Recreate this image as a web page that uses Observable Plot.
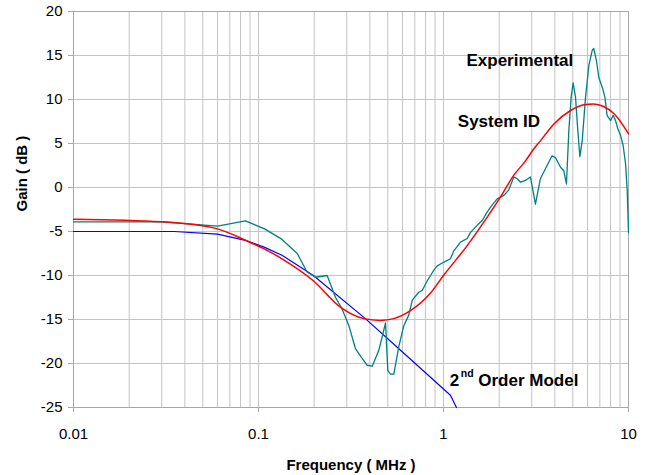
<!DOCTYPE html>
<html><head><meta charset="utf-8">
<script src="https://cdn.jsdelivr.net/npm/d3@7"></script>
<script src="https://cdn.jsdelivr.net/npm/@observablehq/plot@0.6"></script>
<style>body{margin:0;background:#fff}</style>
</head><body><div id="chart"></div>
<script>
// Experimental (teal)
const expFreq = [0.01,0.03,0.06,0.085,0.108,0.134,0.162,0.183,0.203,0.235,0.261,0.283,0.308,0.334,0.36,0.387,0.412,0.447,0.486,0.50,0.517,0.539,0.573,0.61,0.649,0.678,0.735,0.767,0.817,0.851,0.887,0.925,1.0,1.09,1.137,1.236,1.343,1.40,1.52,1.62,1.72,1.83,1.95,2.12,2.25,2.40,2.50,2.61,2.77,2.95,3.14,3.34,3.63,3.86,4.03,4.29,4.47,4.62,4.76,4.90,5.02,5.17,5.32,5.46,5.62,5.86,6.11,6.37,6.49,6.71,6.91,7.21,7.45,7.66,8.0,8.26,8.51,8.75,9.06,9.35,9.64,9.84,10.0];
const expGain = [-3.9,-3.9,-4.4,-3.8,-4.7,-5.9,-7.5,-9.6,-10.2,-10.0,-12.5,-13.8,-15.7,-18.3,-19.3,-20.2,-20.3,-18.5,-15.4,-20.8,-21.2,-21.2,-18.1,-15.7,-14.5,-12.8,-11.9,-11.7,-10.6,-10.0,-9.4,-8.9,-8.5,-8.1,-7.2,-6.2,-5.8,-5.1,-4.3,-3.75,-2.8,-2.0,-1.3,-0.9,-0.3,1.2,1.0,0.6,0.8,1.2,-1.9,1.0,2.5,3.6,3.4,2.3,1.9,0.4,6.5,10.3,11.9,10.3,6.5,3.5,5.3,10.3,13.9,15.6,15.8,14.4,12.5,11.4,10.3,8.2,7.6,8.2,7.6,6.7,5.9,4.8,2.7,-0.3,-5.1];
// System ID (red)
const sysFreq = [0.01,0.03,0.06,0.085,0.108,0.134,0.198,0.277,0.371,0.456,0.539,0.663,0.851,1.0,1.343,1.72,2.03,2.40,2.77,3.08,3.34,3.94,4.86,5.74,6.49,7.35,8.33,9.25,10];
const sysGain = [-3.6,-3.9,-4.7,-6.0,-7.0,-8.1,-10.6,-13.6,-14.9,-15.1,-14.9,-14.0,-12.0,-10.0,-6.6,-3.4,-1.1,1.4,3.0,4.4,5.3,7.2,8.75,9.4,9.5,9.2,8.4,7.2,6.1];
// 2nd order model (blue)
const modFreq = [0.01,0.035,0.06,0.085,0.108,0.134,0.198,0.378,0.586,1.09,1.175];
const modGain = [-5.0,-5.0,-5.3,-6.0,-6.8,-7.7,-10.0,-14.9,-18.5,-23.6,-25.0];

const xTicks = [0.01,0.1,1,10];
const yTicks = [-25,-20,-15,-10,-5,0,5,10,15,20];
const xGrid = [];
for (const p of [0.01,0.1,1]) for (let k=1;k<=9;k++) xGrid.push(+(p*k).toPrecision(3));
xGrid.push(10);

const labelText = ["Experimental","System ID"];
const labelFreq = [1.331,1.195];
const labelGain = [13.86,6.85];
const modelLabelFreq = 1.082, modelLabelGain = -22.61;

const exp = expFreq.map((f,i)=>({f,g:expGain[i]}));
const sys = sysFreq.map((f,i)=>({f,g:sysGain[i]}));
const mod = modFreq.map((f,i)=>({f,g:modGain[i]}));
const labels = labelText.map((t,i)=>({t,f:labelFreq[i],g:labelGain[i]}));
const ml = [{f:modelLabelFreq,g:modelLabelGain}];

const font = "'Liberation Sans', Arial, sans-serif";
const chart = Plot.plot({
  width:650, height:475,
  marginLeft:73, marginRight:22, marginTop:11, marginBottom:68,
  style:{fontFamily:font, fontSize:"15px", color:"#000", background:"#fff"},
  x:{type:"log", domain:[0.01,10]},
  y:{domain:[-25,20]},
  marks:[
    Plot.gridX(xGrid, {stroke:"#c4c4c4", strokeOpacity:1}),
    Plot.gridY(yTicks, {stroke:"#c4c4c4", strokeOpacity:1}),
    Plot.frame({stroke:"#a8a8a8"}),
    Plot.axisX(xTicks, {tickSize:5, tickPadding:16, stroke:"#a8a8a8", fill:"#000", tickFormat:d=>String(d), label:null, fontSize:15}),
    Plot.axisY(yTicks, {tickSize:5, tickPadding:6, stroke:"#a8a8a8", fill:"#000", tickFormat:d=>String(d), label:null, fontSize:15}),
    Plot.line(mod, {x:"f", y:"g", stroke:"#0000ff", strokeWidth:1.2}),
    Plot.line(exp, {x:"f", y:"g", stroke:"#008080", strokeWidth:1.3}),
    Plot.line(sys, {x:"f", y:"g", stroke:"#ff0000", strokeWidth:1.5, curve:"monotone-x"}),
    Plot.text(labels, {x:"f", y:"g", text:"t", textAnchor:"start", lineAnchor:"bottom", fontWeight:"bold", fontSize:17, fill:"#000"}),
    Plot.text(ml, {x:"f", y:"g", text:()=>"2", textAnchor:"start", lineAnchor:"bottom", fontWeight:"bold", fontSize:17, fill:"#000"}),
    Plot.text(ml, {x:"f", y:"g", text:()=>"nd", textAnchor:"start", lineAnchor:"bottom", fontWeight:"bold", fontSize:10.5, dx:11, dy:-9.3, fill:"#000"}),
    Plot.text(ml, {x:"f", y:"g", text:()=>"Order Model", textAnchor:"start", lineAnchor:"bottom", fontWeight:"bold", fontSize:17, dx:28.4, fill:"#000"}),
    Plot.text(["Frequency ( MHz )"], {frameAnchor:"bottom", lineAnchor:"bottom", dy:62, fontWeight:"bold", fontSize:15, fill:"#000"}),
    Plot.text(["Gain ( dB )"], {frameAnchor:"left", rotate:-90, dx:-51, dy:2, fontWeight:"bold", fontSize:15, fill:"#000"})
  ]
});
document.getElementById("chart").appendChild(chart);
</script>
</body></html>
